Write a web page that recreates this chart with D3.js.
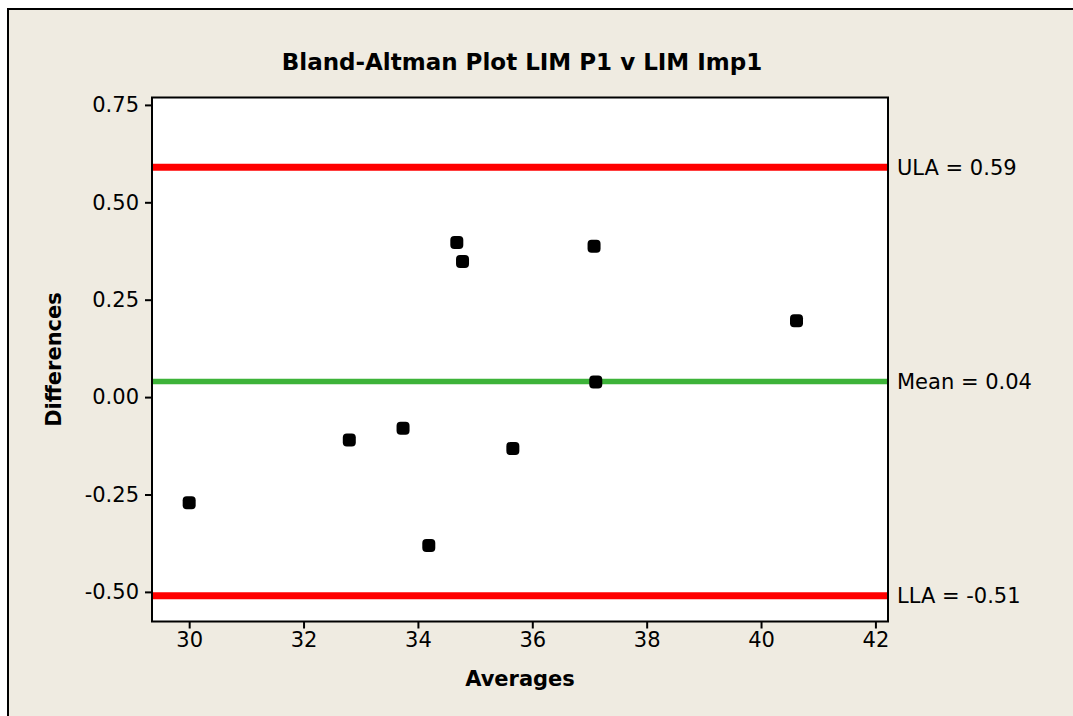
<!DOCTYPE html>
<html>
<head>
<meta charset="utf-8">
<script src="https://cdn.jsdelivr.net/npm/d3@7"></script>
<style>
  html, body { margin: 0; padding: 0; background: #ffffff; }
  svg { display: block; font-family: "DejaVu Sans", Verdana, sans-serif; }
</style>
</head>
<body>
<div id="chart"></div>
<script>
// Dati
var averages = [30.00, 32.80, 33.74, 34.19, 34.68, 34.78, 35.66, 37.08, 37.11, 40.62];
var differences = [-0.271, -0.110, -0.080, -0.381, 0.397, 0.348, -0.132, 0.387, 0.039, 0.196];
var refNames = ["ULA", "Mean", "LLA"];
var refValues = [0.59, 0.04, -0.51];
var refColors = ["#ff0000", "#3db339", "#ff0000"];
var xTicks = [30, 32, 34, 36, 38, 40, 42];
var yTicks = [0.75, 0.50, 0.25, 0.00, -0.25, -0.50];

var width = 1073, height = 716;
var plot = { left: 152, top: 97.5, right: 888, bottom: 621.5 };

// formato con trattino normale al posto del segno meno unicode
function fmt2(v) { return d3.format(".2f")(v).replace("\u2212", "-"); }

var svg = d3.select("#chart")
  .append("svg")
  .attr("width", width)
  .attr("height", height);

// sfondo e cornice esterna
svg.append("rect")
  .attr("x", 8).attr("y", 9)
  .attr("width", width + 40).attr("height", height + 40)
  .attr("fill", "#efebe1")
  .attr("stroke", "#000").attr("stroke-width", 2);

var x = d3.scaleLinear().domain([29.35, 42.22]).range([plot.left, plot.right]);
var y = d3.scaleLinear().domain([0.769, -0.576]).range([plot.top, plot.bottom]);

// area del grafico
svg.append("rect")
  .attr("x", plot.left).attr("y", plot.top)
  .attr("width", plot.right - plot.left).attr("height", plot.bottom - plot.top)
  .attr("fill", "#ffffff");

// linee di riferimento
refValues.forEach(function (v, i) {
  svg.append("line")
    .attr("x1", plot.left).attr("x2", plot.right)
    .attr("y1", y(v)).attr("y2", y(v))
    .attr("stroke", refColors[i])
    .attr("stroke-width", i === 1 ? 5.5 : 7);

  svg.append("text")
    .attr("x", plot.right + 9)
    .attr("y", y(v))
    .attr("dy", "0.36em")
    .attr("font-size", "21px")
    .attr("fill", "#000")
    .text(refNames[i] + " = " + fmt2(v));
});

// punti
svg.selectAll(".pt")
  .data(averages)
  .enter()
  .append("rect")
  .attr("class", "pt")
  .attr("x", function (d) { return x(d) - 6.5; })
  .attr("y", function (d, i) { return y(differences[i]) - 6.5; })
  .attr("width", 13).attr("height", 13)
  .attr("rx", 4).attr("ry", 4)
  .attr("fill", "#000");

// assi
var xAxis = d3.axisBottom(x).tickValues(xTicks).tickSize(7).tickPadding(4).tickFormat(d3.format("d"));
var yAxis = d3.axisLeft(y).tickValues(yTicks).tickSize(7).tickPadding(6).tickFormat(fmt2);

var gx = svg.append("g")
  .attr("transform", "translate(0," + plot.bottom + ")")
  .call(xAxis);
var gy = svg.append("g")
  .attr("transform", "translate(" + plot.left + ",0)")
  .call(yAxis);

[gx, gy].forEach(function (g) {
  g.select(".domain").remove();
  g.selectAll("line").attr("stroke", "#000").attr("stroke-width", 2);
  g.selectAll("text")
    .attr("font-size", "21px")
    .attr("font-family", "DejaVu Sans, sans-serif")
    .attr("fill", "#000");
});

// bordo del grafico
svg.append("rect")
  .attr("x", plot.left).attr("y", plot.top)
  .attr("width", plot.right - plot.left).attr("height", plot.bottom - plot.top)
  .attr("fill", "none")
  .attr("stroke", "#000").attr("stroke-width", 2);

// titolo ed etichette
svg.append("text")
  .attr("x", (plot.left + plot.right) / 2 + 2)
  .attr("y", 70)
  .attr("text-anchor", "middle")
  .attr("font-size", "23px")
  .attr("font-weight", "bold")
  .text("Bland-Altman Plot LIM P1 v LIM Imp1");

svg.append("text")
  .attr("x", (plot.left + plot.right) / 2)
  .attr("y", 686)
  .attr("text-anchor", "middle")
  .attr("font-size", "21px")
  .attr("font-weight", "bold")
  .text("Averages");

svg.append("text")
  .attr("transform", "translate(61," + (plot.top + plot.bottom) / 2 + ") rotate(-90)")
  .attr("text-anchor", "middle")
  .attr("font-size", "21px")
  .attr("font-weight", "bold")
  .text("Differences");
</script>
</body>
</html>
